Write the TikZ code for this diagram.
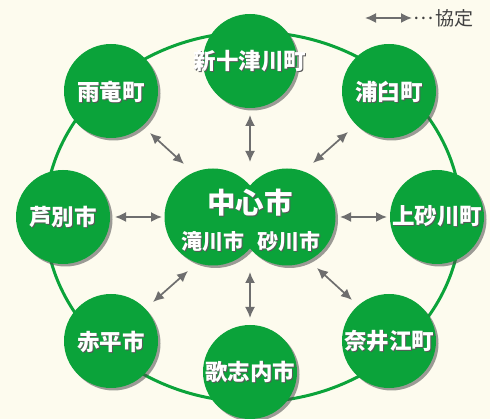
\documentclass[tikz,border=0pt]{standalone}
\usepackage{fontspec}
\setmainfont{Noto Sans CJK JP}
\usetikzlibrary{arrows.meta,shadows}
\definecolor{bgc}{HTML}{FDFBEE}
\definecolor{grn}{HTML}{0BA33A}
\definecolor{agray}{HTML}{6E6E6E}
\newcommand\shtext[1]{\leavevmode\rlap{\hspace{1pt}\raisebox{-1pt}{\textcolor{black!65}{#1}}}\textcolor{white}{#1}}
\tikzset{
  town/.style={circle, fill=grn, minimum size=94pt, inner sep=0pt,
    drop shadow={shadow xshift=2.5pt, shadow yshift=-2.5pt, opacity=0.55, fill=black!70}},
  cen/.style={circle, fill=grn, minimum size=97pt, inner sep=0pt,
    drop shadow={shadow xshift=2.5pt, shadow yshift=-2.5pt, opacity=0.55, fill=black!70}},
  agr/.style={draw=agray, line width=1.7pt, {Latex[length=11pt,width=10pt]}-{Latex[length=11pt,width=10pt]}},
  ring/.style={draw=grn, line width=3pt},
  lbl/.style={inner sep=0pt, text=white, font=\fontsize{22.5}{24}\bfseries},
  sml/.style={inner sep=0pt, text=white, font=\fontsize{21}{23}\bfseries},
  big/.style={inner sep=0pt, text=white, font=\fontsize{28.5}{31}\bfseries}
}
\begin{document}
\begin{tikzpicture}[x=1pt,y=-1pt]
\fill[bgc] (0,0) rectangle (490,419);
\useasboundingbox (0,0) rectangle (490,419);
\draw[ring] (253,217) ellipse [x radius=208, y radius=185];
% outer towns
\node[town] (shin) at (250,61) {};
\node[town] (uryu) at (111,91) {};
\node[town] (ura) at (389,91) {};
\node[town] (ashi) at (63,217) {};
\node[town] (kami) at (437,217) {};
\node[town] (aka) at (111,341) {};
\node[town] (nai) at (389,341) {};
\node[town] (uta) at (250,372) {};
% center
\node[cen] (taki) at (213,217) {};
\node[cen] (suna) at (287,217) {};
% labels
\node[lbl] (tshin) at (250,62) {\shtext{新十津川町}};
\node[lbl] (turyu) at (111,92) {\shtext{雨竜町}};
\node[lbl] (tura) at (389,92) {\shtext{浦臼町}};
\node[lbl] (tashi) at (63,217) {\shtext{芦別市}};
\node[lbl] (tkami) at (437,217) {\shtext{上砂川町}};
\node[lbl] (taka) at (111,342) {\shtext{赤平市}};
\node[lbl] (tnai) at (389,342) {\shtext{奈井江町}};
\node[lbl] (tuta) at (250,372) {\shtext{歌志内市}};
\node[big] (tchu) at (250,203.5) {\shtext{中心市}};
\node[sml] (ttaki) at (212.5,242) {\shtext{滝川市}};
\node[sml] (tsuna) at (288.5,242) {\shtext{砂川市}};
% connector end points
\coordinate (a1) at (250,115); \coordinate (b1) at (250,162);
\coordinate (a2) at (150,133); \coordinate (b2) at (184,164);
\coordinate (a3) at (348,132); \coordinate (b3) at (313,163);
\coordinate (a4) at (115,217); \coordinate (b4) at (162,217);
\coordinate (a5) at (387,217); \coordinate (b5) at (340,217);
\coordinate (a6) at (153,302); \coordinate (b6) at (188,271);
\coordinate (a7) at (250,318); \coordinate (b7) at (250,272);
\coordinate (a8) at (352,300); \coordinate (b8) at (317,268);
\foreach \i in {1,...,8} {\draw[agr] (a\i) -- (b\i);}
% legend
\coordinate (la) at (365,18); \coordinate (lb) at (412,18);
\draw[agr] (la) -- (lb);
\node[anchor=west, inner sep=0pt, text=black!75, font=\fontsize{19}{21}\selectfont] (leg) at (413,18) {\raisebox{0.28em}{…}\hspace{0.1em}協定};
\end{tikzpicture}
\end{document}
